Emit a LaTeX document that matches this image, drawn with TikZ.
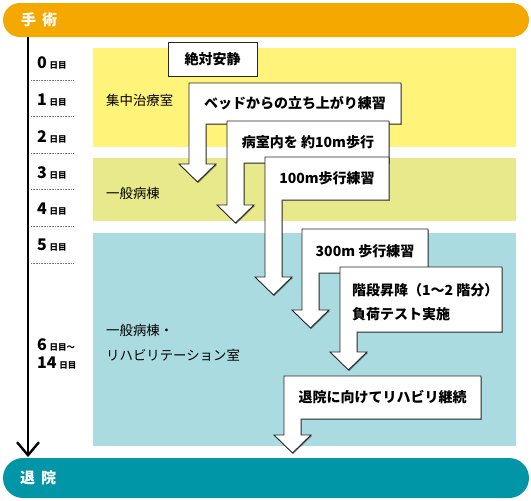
\documentclass[tikz,border=0pt]{standalone}
\usepackage{fontspec}
\setmainfont{Noto Sans CJK JP}
\usepackage{tikz}
\usetikzlibrary{arrows.meta}
\usetikzlibrary{shadows}

\definecolor{opcolor}{RGB}{245,168,0}
\definecolor{dccolor}{RGB}{0,150,168}
\definecolor{icucolor}{RGB}{255,243,121}
\definecolor{wardcolor}{RGB}{231,233,139}
\definecolor{rehabcolor}{RGB}{170,219,224}

\tikzstyle{bartext}=[anchor=west,inner sep=0pt,text=white,font=\bfseries\fontsize{15}{15}\selectfont]
\tikzstyle{roomtext}=[anchor=west,inner sep=0pt,align=left,font=\fontsize{13.4}{25}\selectfont]
\tikzstyle{daylabel}=[anchor=west,inner sep=0pt,font=\bfseries\fontsize{16}{16}\selectfont]
\tikzstyle{daysep}=[densely dotted,black!55,line width=0.6pt]
\tikzstyle{timeline}=[line width=2.4pt,-{Straight Barb[length=13pt,width=22pt]}]
\tikzstyle{flowbox}=[draw=black!85,line width=0.9pt,fill=white,
  drop shadow={shadow xshift=0.9pt,shadow yshift=-0.9pt,opacity=0.45,fill=black}]
\tikzstyle{boxtext}=[inner sep=0pt,font=\bfseries\fontsize{14}{24}\selectfont]

\newcommand{\daysuffix}{{\fontsize{8.5}{8.5}\selectfont 日目}}
% left, top, right, bottom, arrow head base
\newcommand{\arrowbox}[5]{%
  \draw[flowbox] (#1,#2) -- (#3,#2) -- (#3,#4) -- (#1+17,#4) -- (#1+17,#5)
    -- (#1+27,#5) -- (#1+8.5,#5+18) -- (#1-10,#5) -- (#1,#5) -- cycle;}

\begin{document}
\begin{tikzpicture}[x=1pt,y=-1pt]
\useasboundingbox (0,0) rectangle (531,501);

% start and end bars
\fill[opcolor,rounded corners=17pt] (3,3) rectangle (529,37);
\node[bartext] (op) at (21,20) {手\hspace{6pt}術};
\fill[dccolor,rounded corners=20pt] (3,458) rectangle (529,498);
\node[bartext] (dc) at (20,478) {退\hspace{6pt}院};

% rooms
\fill[icucolor] (93,48) rectangle (516,147);
\fill[wardcolor] (93,158) rectangle (516,221);
\fill[rehabcolor] (93,233) rectangle (516,446);
\node[roomtext] (icu) at (106,100) {集中治療室};
\node[roomtext] (ward) at (106,193) {一般病棟};
\node[roomtext] (rehab) at (106,343) {一般病棟・\\リハビリテーション室};

% time line
\coordinate (tlstart) at (28,37);
\coordinate (tlend) at (28,457);
\draw[timeline] (tlstart) -- (tlend);

\foreach \d/\y in {0/63,1/100,2/137,3/173,4/209,5/245}
  \node[daylabel] (day\d) at (37,\y) {\d\,\daysuffix};
\node[daylabel] (day6) at (37,345) {6\,\daysuffix{\fontsize{8.5}{8.5}\selectfont ～}};
\node[daylabel] (day14) at (37,363) {14\,\daysuffix};
\foreach \y in {80,116,153,189,226,263}
  \draw[daysep] (31,\y) -- (73,\y);

% steps
\node[flowbox,boxtext,minimum width=89pt,minimum height=34pt] (rest) at (212.5,59.5) {絶対安静};

\arrowbox{189}{83}{401}{124}{164}
\node[boxtext] (standup) at (295,103.5) {ベッドからの立ち上がり練習};

\arrowbox{227}{121}{389}{163}{205}
\node[boxtext] (walkroom) at (308,142) {病室内を 約10m歩行};

\arrowbox{265}{157}{389}{200}{277}
\node[boxtext] (walkshort) at (327,178.5) {100m歩行練習};

\arrowbox{302}{229}{428}{273}{310}
\node[boxtext] (walklong) at (365,251) {300m 歩行練習};

\arrowbox{340}{267}{502}{332}{352}
\node[boxtext,anchor=west,align=left] (stairs) at (352,302) {階段昇降（1～2 階分）\\負荷テスト実施};

\arrowbox{284}{376}{481}{419}{435}
\node[boxtext] (rehabgo) at (382.5,397.5) {退院に向けてリハビリ継続};

\end{tikzpicture}
\end{document}
